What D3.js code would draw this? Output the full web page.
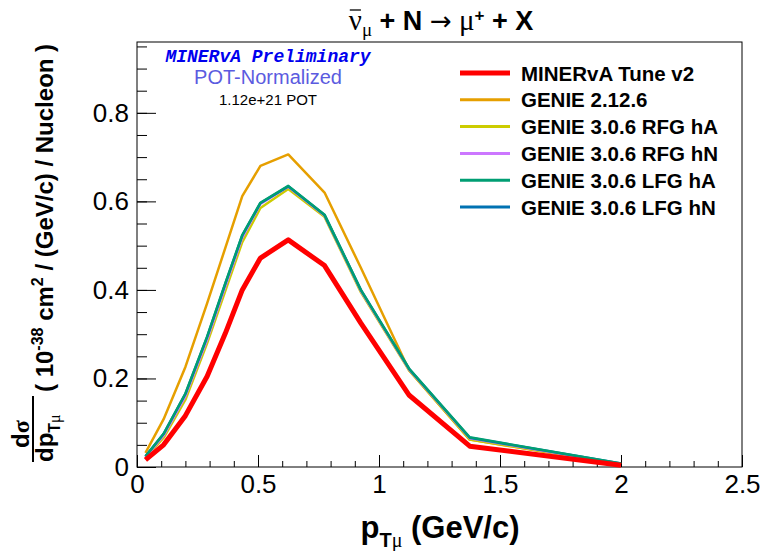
<!DOCTYPE html>
<head>
<meta charset="utf-8">
<title>pT cross section</title>
<script src="https://d3js.org/d3.v7.min.js"></script>
<style>
body { margin: 0; background: #fff; }
</style>
</head>
<body>
<script>
// bin centres of the pT binning (GeV/c)
var ptCenters = [0.035, 0.11, 0.2, 0.29, 0.365, 0.435, 0.51, 0.625, 0.775, 0.925, 1.125, 1.375, 2.0];
var tuneV2  = [0.016, 0.050, 0.116, 0.205, 0.302, 0.400, 0.472, 0.513, 0.455, 0.325, 0.162, 0.047, 0.004];
var genie2  = [0.032, 0.108, 0.226, 0.370, 0.495, 0.612, 0.680, 0.706, 0.620, 0.450, 0.218, 0.062, 0.006];
var rfgHA   = [0.020, 0.066, 0.152, 0.280, 0.398, 0.508, 0.585, 0.628, 0.565, 0.395, 0.218, 0.062, 0.007];
var rfgHN   = [0.022, 0.071, 0.160, 0.288, 0.408, 0.518, 0.594, 0.633, 0.568, 0.398, 0.220, 0.065, 0.007];
var lfgHA   = [0.024, 0.075, 0.166, 0.295, 0.415, 0.524, 0.597, 0.635, 0.570, 0.400, 0.222, 0.067, 0.008];
var lfgHN   = [0.024, 0.075, 0.165, 0.294, 0.414, 0.523, 0.596, 0.634, 0.569, 0.400, 0.221, 0.066, 0.008];

var seriesNames = ["MINERvA Tune v2", "GENIE 2.12.6", "GENIE 3.0.6 RFG hA", "GENIE 3.0.6 RFG hN", "GENIE 3.0.6 LFG hA", "GENIE 3.0.6 LFG hN"];
var seriesData = [tuneV2, genie2, rfgHA, rfgHN, lfgHA, lfgHN];
var seriesColors = ["#ff0000", "#e69f00", "#cccc00", "#cc77ff", "#009e73", "#0072b2"];
var seriesWidths = [5, 2.5, 2.5, 2.5, 2.5, 2.5];
var drawOrder = [1, 2, 3, 5, 4, 0];

var xTicks = [0, 0.5, 1, 1.5, 2, 2.5];
var yTicks = [0, 0.2, 0.4, 0.6, 0.8];

var width = 764, height = 551;
var padL = 137, padR = 742, padT = 42, padB = 467;
var SANS = "Liberation Sans, Arial, sans-serif";
var SERIF = "Liberation Serif, serif";

var svg = d3.select("body").append("svg")
  .attr("width", width)
  .attr("height", height)
  .attr("font-family", SANS)
  .attr("xmlns", "http://www.w3.org/2000/svg");

var x = d3.scaleLinear().domain([0, 2.5]).range([padL, padR]);
var y = d3.scaleLinear().domain([0, 0.96]).range([padB, padT]);

// frame
svg.append("rect")
  .attr("x", padL).attr("y", padT)
  .attr("width", padR - padL).attr("height", padB - padT)
  .attr("fill", "none").attr("stroke", "#000").attr("stroke-width", 1);

// minor ticks
svg.append("g").attr("transform", "translate(" + padL + ",0)")
  .call(d3.axisLeft(y).tickValues(d3.range(0, 0.951, 0.05)).tickSize(-10).tickFormat(""))
  .call(function(g) { g.select(".domain").remove(); });
svg.append("g").attr("transform", "translate(0," + padB + ")")
  .call(d3.axisBottom(x).tickValues(d3.range(0, 2.501, 0.1)).tickSize(-6).tickFormat(""))
  .call(function(g) { g.select(".domain").remove(); });

// major ticks + labels
var yAxis = svg.append("g").attr("transform", "translate(" + padL + ",0)")
  .call(d3.axisLeft(y).tickValues(yTicks).tickSize(-19).tickPadding(8)
    .tickFormat(function(d) { return d === 0 ? "0" : d3.format(".1f")(d); }));
yAxis.select(".domain").remove();
yAxis.selectAll("text").attr("font-size", 26).attr("font-family", SANS).attr("fill", "#000");

var xAxis = svg.append("g").attr("transform", "translate(0," + padB + ")")
  .call(d3.axisBottom(x).tickValues(xTicks).tickSize(-12).tickPadding(8)
    .tickFormat(function(d) { return String(d); }));
xAxis.select(".domain").remove();
xAxis.selectAll("text").attr("font-size", 26).attr("font-family", SANS).attr("fill", "#000");

// curves
var line = d3.line()
  .x(function(d) { return x(d[0]); })
  .y(function(d) { return y(d[1]); });

drawOrder.forEach(function(i) {
  var pts = ptCenters.map(function(p, k) { return [p, seriesData[i][k]]; });
  svg.append("path")
    .datum(pts)
    .attr("d", line)
    .attr("fill", "none")
    .attr("stroke", seriesColors[i])
    .attr("stroke-width", seriesWidths[i])
    .attr("stroke-linejoin", "round");
});

// legend
var legend = svg.append("g");
seriesNames.forEach(function(name, i) {
  var ly = 73 + i * 26.8;
  legend.append("line")
    .attr("x1", 460).attr("x2", 510).attr("y1", ly).attr("y2", ly)
    .attr("stroke", seriesColors[i]).attr("stroke-width", i === 0 ? 5 : 3);
  legend.append("text")
    .attr("x", 521).attr("y", ly + 7.5)
    .attr("font-size", 20.5).attr("font-weight", "bold")
    .text(name);
});

// labels in upper left
svg.append("text").attr("x", 268).attr("y", 62)
  .attr("text-anchor", "middle")
  .attr("font-family", "Liberation Mono, Courier New, monospace")
  .attr("font-weight", "bold").attr("font-style", "italic")
  .attr("font-size", 18).attr("fill", "#0000ee")
  .text("MINERvA Preliminary");
svg.append("text").attr("x", 268).attr("y", 83.5)
  .attr("text-anchor", "middle")
  .attr("font-size", 20).attr("fill", "#5b5be0")
  .text("POT-Normalized");
svg.append("text").attr("x", 268).attr("y", 105)
  .attr("text-anchor", "middle")
  .attr("font-size", 15).attr("fill", "#000")
  .text("1.12e+21 POT");

// title
var title = svg.append("text").attr("x", 441).attr("y", 30)
  .attr("text-anchor", "middle").attr("font-size", 27).attr("font-weight", "bold");
title.append("tspan").attr("class", "nubar").attr("font-family", SERIF).attr("font-weight", "normal").attr("font-size", 29).text("\u03bd");
title.append("tspan").attr("font-family", SERIF).attr("font-weight", "normal").attr("font-size", 19).attr("dy", 6).text("\u03bc");
title.append("tspan").attr("dy", -6).text(" + N ");
title.append("tspan").attr("font-family", "DejaVu Sans, sans-serif").attr("font-weight", "normal").attr("font-size", 26).text("\u2192");
title.append("tspan").attr("font-family", SERIF).attr("font-weight", "normal").attr("font-size", 29).text(" \u03bc");
title.append("tspan").attr("font-size", 17).attr("dy", -9).text("+");
title.append("tspan").attr("dy", 9).text(" + X");
var nb = title.select(".nubar").node();
var ext = nb.getExtentOfChar(0);
svg.append("line")
  .attr("x1", ext.x + 1).attr("x2", ext.x + ext.width - 1)
  .attr("y1", 10).attr("y2", 10)
  .attr("stroke", "#000").attr("stroke-width", 1.3);

// x-axis title
var xt = svg.append("text").attr("x", 440).attr("y", 538)
  .attr("text-anchor", "middle").attr("font-size", 31).attr("font-weight", "bold");
xt.append("tspan").text("p");
xt.append("tspan").attr("font-size", 20).attr("dy", 9).text("T");
xt.append("tspan").attr("font-size", 20).attr("font-family", SERIF).attr("font-weight", "normal").text("\u03bc");
xt.append("tspan").attr("dy", -9).text(" (GeV/c)");

// y-axis title (rotated)
var frac = svg.append("g").attr("transform", "translate(0,462) rotate(-90)");
frac.append("text").attr("x", 14).attr("y", 29)
  .attr("font-size", 24).attr("font-weight", "bold")
  .text("d")
  .append("tspan").attr("font-family", SERIF).text("\u03c3");
frac.append("line").attr("x1", 0).attr("x2", 66).attr("y1", 33).attr("y2", 33)
  .attr("stroke", "#000").attr("stroke-width", 2);
var den = frac.append("text").attr("x", 0).attr("y", 53)
  .attr("font-size", 24).attr("font-weight", "bold");
den.append("tspan").text("dp");
den.append("tspan").attr("font-size", 16).attr("dy", 7).text("T");
den.append("tspan").attr("font-size", 16).attr("font-family", SERIF).attr("font-weight", "normal").text("\u03bc");

var unit = svg.append("g").attr("transform", "translate(53,392) rotate(-90)");
var ut = unit.append("text").attr("x", 0).attr("y", 0)
  .attr("font-size", 24).attr("font-weight", "bold");
ut.append("tspan").text("( 10");
ut.append("tspan").attr("font-size", 16).attr("dy", -10).text("-38");
ut.append("tspan").attr("dy", 10).text(" cm");
ut.append("tspan").attr("font-size", 16).attr("dy", -10).text("2");
ut.append("tspan").attr("dy", 10).text(" / (GeV/c) / Nucleon )");
</script>
</body>
